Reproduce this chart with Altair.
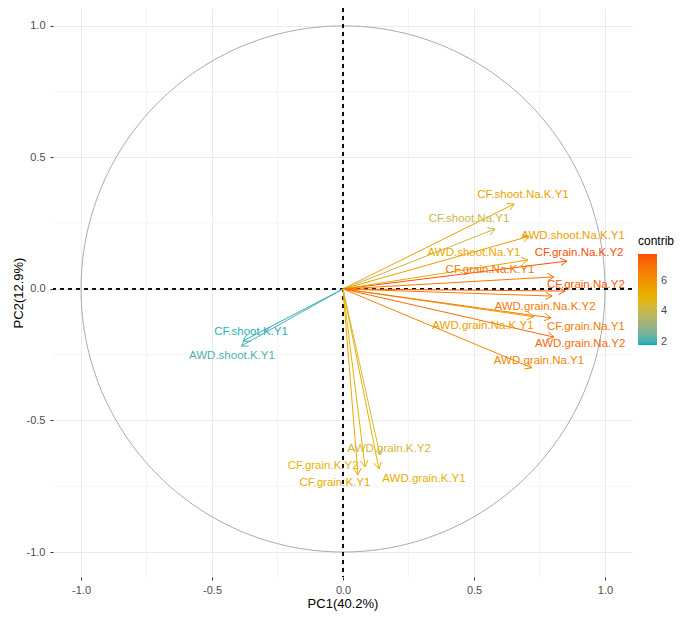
import numpy as np
import pandas as pd
import altair as alt

# ---- data ----
names = [
    "CF.shoot.Na.K.Y1", "CF.shoot.Na.Y1", "AWD.shoot.Na.K.Y1", "CF.grain.Na.K.Y2",
    "AWD.shoot.Na.Y1", "CF.grain.Na.K.Y1", "CF.grain.Na.Y2", "AWD.grain.Na.K.Y2",
    "AWD.grain.Na.K.Y1", "CF.grain.Na.Y1", "AWD.grain.Na.Y2", "AWD.grain.Na.Y1",
    "CF.shoot.K.Y1", "AWD.shoot.K.Y1", "CF.grain.K.Y1", "CF.grain.K.Y2",
    "AWD.grain.K.Y1", "AWD.grain.K.Y2",
]
pc1 = [0.653, 0.580, 0.710, 0.855, 0.706, 0.805, 0.847, 0.798,
       0.729, 0.794, 0.805, 0.721, -0.382, -0.389, 0.057, 0.084, 0.137, 0.141]
pc2 = [0.323, 0.228, 0.200, 0.106, 0.110, 0.046, -0.008, -0.027,
       -0.106, -0.110, -0.183, -0.300, -0.198, -0.217, -0.707, -0.677, -0.684, -0.631]
label_x = [0.687, 0.481, 0.878, 0.901, 0.500, 0.561, 0.927, 0.771,
           0.534, 0.927, 0.905, 0.748, -0.351, -0.424, -0.031, -0.076, 0.309, 0.176]
label_y = [0.357, 0.266, 0.202, 0.137, 0.137, 0.072, 0.015, -0.068,
           -0.141, -0.144, -0.209, -0.274, -0.163, -0.255, -0.738, -0.673, -0.722, -0.608]
contrib = [5.5, 4.1, 5.7, 7.7, 5.3, 6.8, 7.5, 6.7,
           5.7, 6.7, 7.1, 6.4, 1.9, 2.1, 5.3, 4.9, 5.1, 4.4]

major_breaks = [-1.0, -0.5, 0.0, 0.5, 1.0]
minor_breaks = [-0.75, -0.25, 0.25, 0.75]
legend_ticks = [2, 4, 6]
gradient_colors = ["#00AFBB", "#E7B800", "#FC4E07"]
contrib_domain = [1.8, 4.77, 7.74]

df = pd.DataFrame({"name": names, "pc1": pc1, "pc2": pc2,
                   "lx": label_x, "ly": label_y, "contrib": contrib})
theta = np.linspace(0, 2 * np.pi, 361)
circle_df = pd.DataFrame({"cx": np.cos(theta), "cy": np.sin(theta), "ord": np.arange(361)})
minor_df = pd.DataFrame({"v": minor_breaks})

FONT = "Liberation Sans"
LABEL_EXPR = ("datum.value < 0 ? '-' + format(abs(datum.value), '.1f') "
              ": format(datum.value, '.1f')")
xs = alt.Scale(domain=[-1.107, 1.103], nice=False, zero=False)
ys = alt.Scale(domain=[-1.095, 1.068], nice=False, zero=False)
xaxis = alt.Axis(values=major_breaks, labelExpr=LABEL_EXPR, title="PC1(40.2%)", grid=True,
                 gridColor="#EBEBEB", gridWidth=1, domain=False, tickColor="#333333",
                 tickSize=3, labelPadding=4, labelFontSize=11, labelColor="#4D4D4D",
                 labelFont=FONT, titleFont=FONT, titleFontSize=13, titleFontWeight="normal",
                 titleColor="black", titlePadding=2)
yaxis = alt.Axis(values=major_breaks, labelExpr=LABEL_EXPR, title="PC2(12.9%)", grid=True,
                 gridColor="#EBEBEB", gridWidth=1, domain=False, tickColor="#333333",
                 tickSize=3, labelPadding=5, labelFontSize=11, labelColor="#4D4D4D",
                 labelFont=FONT, titleFont=FONT, titleFontSize=13, titleFontWeight="normal",
                 titleColor="black", titlePadding=1)

cscale = alt.Scale(domain=contrib_domain, range=gradient_colors, interpolate="lab")
clegend = alt.Legend(title="contrib", type="gradient", orient="none", legendX=585, legendY=228,
                     direction="vertical", gradientLength=91, gradientThickness=19,
                     gradientStrokeWidth=0, values=legend_ticks, labelFont=FONT,
                     labelFontSize=11, labelColor="#4D4D4D", labelOffset=4,
                     titleFont=FONT, titleFontSize=12, titleFontWeight="normal",
                     titleColor="black", titlePadding=6)
color = alt.Color("contrib:Q", scale=cscale, legend=None)
color_leg = alt.Color("contrib:Q", scale=cscale, legend=clegend)

minor_x = alt.Chart(minor_df).mark_rule(color="#EBEBEB", strokeWidth=0.5).encode(
    x=alt.X("v:Q", scale=xs, axis=xaxis))
minor_y = alt.Chart(minor_df).mark_rule(color="#EBEBEB", strokeWidth=0.5).encode(
    y=alt.Y("v:Q", scale=ys, axis=yaxis))

circle = alt.Chart(circle_df).mark_line(color="#AAAAAA", strokeWidth=1).encode(
    x=alt.X("cx:Q", scale=xs, axis=xaxis),
    y=alt.Y("cy:Q", scale=ys, axis=yaxis),
    order="ord:Q")

vline = alt.Chart(minor_df).mark_rule(color="black", strokeWidth=1, strokeDash=[4, 4]).encode(
    x=alt.X(datum=0, scale=xs, axis=xaxis))
hline = alt.Chart(minor_df).mark_rule(color="black", strokeWidth=1, strokeDash=[4, 4]).encode(
    y=alt.Y(datum=0, scale=ys, axis=yaxis))

base = alt.Chart(df).transform_calculate(
    ox="0", oy="0",
    ang="atan2(datum.pc2, datum.pc1)",
).transform_calculate(
    h1x="datum.pc1 - 0.0286*cos(datum.ang - PI/6)",
    h1y="datum.pc2 - 0.0286*sin(datum.ang - PI/6)",
    h2x="datum.pc1 - 0.0286*cos(datum.ang + PI/6)",
    h2y="datum.pc2 - 0.0286*sin(datum.ang + PI/6)",
)

# invisible layer that only carries the gradient colour legend
legend_carrier = base.mark_rect(opacity=0).encode(
    x=alt.X("pc1:Q", scale=xs, axis=xaxis), x2="pc1:Q",
    y=alt.Y("pc2:Q", scale=ys, axis=yaxis), y2="pc2:Q",
    color=color_leg)

shafts = base.mark_rule(strokeWidth=1).encode(
    x=alt.X("ox:Q", scale=xs, axis=xaxis), x2="pc1:Q",
    y=alt.Y("oy:Q", scale=ys, axis=yaxis), y2="pc2:Q", color=color)
head1 = base.mark_rule(strokeWidth=1).encode(
    x=alt.X("pc1:Q", scale=xs, axis=xaxis), x2="h1x:Q",
    y=alt.Y("pc2:Q", scale=ys, axis=yaxis), y2="h1y:Q", color=color)
head2 = base.mark_rule(strokeWidth=1).encode(
    x=alt.X("pc1:Q", scale=xs, axis=xaxis), x2="h2x:Q",
    y=alt.Y("pc2:Q", scale=ys, axis=yaxis), y2="h2y:Q", color=color)

labels = base.mark_text(font=FONT, fontSize=11.5, align="center", baseline="middle").encode(
    x=alt.X("lx:Q", scale=xs, axis=xaxis),
    y=alt.Y("ly:Q", scale=ys, axis=yaxis),
    text="name:N", color=color)

chart = alt.layer(minor_x, minor_y, circle, vline, hline, legend_carrier,
                  shafts, head1, head2, labels).resolve_legend(color="independent").properties(
    width=579, height=569,
    autosize=alt.AutoSizeParams(type="none"),
    padding={"left": 45, "top": 0, "right": 45, "bottom": 35},
    background="white",
).configure_view(stroke=None)

chart.save("out.html", embed_options={"renderer": "svg", "actions": False})
